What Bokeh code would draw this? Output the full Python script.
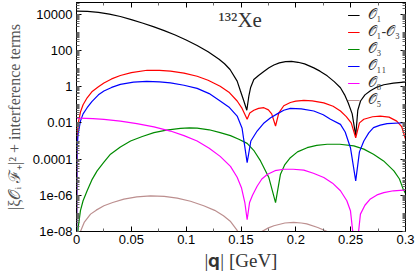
import numpy as np
from bokeh.plotting import figure
from bokeh.models import (FixedTicker, LinearAxis, LogAxis, Label, Legend, LegendItem)
from bokeh.embed import file_html
from bokeh.resources import INLINE

# ---- data: q [GeV] and log10 of |xi F|^2 ----
q_o1 = [0.0, 0.01, 0.02, 0.03, 0.04, 0.05, 0.06, 0.07, 0.08, 0.09, 0.10, 0.11, 0.12, 0.13,
        0.135, 0.14, 0.1465, 0.1495, 0.1526, 0.1553, 0.1572, 0.1587, 0.1617, 0.166, 0.1708,
        0.1755, 0.18, 0.185, 0.1906, 0.196, 0.202, 0.208, 0.2164, 0.222, 0.2286, 0.235,
        0.2407, 0.2445, 0.2478, 0.2514, 0.2546, 0.2565, 0.259, 0.263, 0.268, 0.274, 0.2802,
        0.289, 0.2985, 0.3]
lg_o1 = [4.18, 4.16, 4.11, 4.01, 3.88, 3.71, 3.52, 3.32, 3.10, 2.86, 2.58, 2.28, 1.93, 1.52,
         1.27, 0.95, 0.31, -0.24, -0.79, -1.3, -0.5, -0.06, 0.40, 0.62, 0.84,
         1.05, 1.2, 1.32, 1.39, 1.40, 1.35, 1.26, 1.04, 0.86, 0.60, 0.28,
         -0.06, -0.45, -0.9, -1.5, -2.7, -1.3, -0.79, -0.45, -0.22, -0.02, 0.11,
         0.2, 0.25, 0.25]

q_o13 = [0.0, 0.0004, 0.001, 0.002, 0.0036, 0.006, 0.0097, 0.014, 0.02, 0.025, 0.032, 0.04,
         0.05, 0.0644, 0.0757, 0.0857, 0.098, 0.11, 0.12, 0.131, 0.139, 0.1465, 0.151,
         0.1556, 0.158, 0.1617, 0.166, 0.1708, 0.175, 0.178, 0.1815, 0.1845, 0.189, 0.195,
         0.2, 0.2073, 0.215, 0.2255, 0.234, 0.2407, 0.246, 0.2505, 0.2546, 0.258, 0.262,
         0.27, 0.277, 0.285, 0.292, 0.2965, 0.2985, 0.3]
lg_o13 = [-10.0, -3.2, -2.4, -1.9, -1.40, -1.0, -0.61, -0.28, 0.0, 0.21, 0.43, 0.62,
          0.78, 0.91, 0.90, 0.86, 0.75, 0.58, 0.36, 0.03, -0.3, -0.79, -1.2,
          -1.8, -1.45, -1.3, -1.2, -1.16, -1.28, -1.5, -2.17, -1.45, -1.05, -0.87,
          -0.8, -0.76, -0.78, -0.89, -1.08, -1.34, -1.65, -2.0, -2.82, -2.0, -1.8,
          -1.66, -1.62, -1.68, -1.9, -2.2, -2.6, -2.9]

q_o3 = [0.0, 0.0005, 0.0015, 0.0036, 0.006, 0.0097, 0.014, 0.0188, 0.025, 0.031, 0.04,
        0.0493, 0.06, 0.0706, 0.082, 0.0948, 0.103, 0.11, 0.121, 0.131, 0.1404, 0.148,
        0.1556, 0.162, 0.1678, 0.1754, 0.1815, 0.186, 0.19, 0.195, 0.2015, 0.2103, 0.219,
        0.2286, 0.24, 0.2529, 0.262, 0.2708, 0.28, 0.2894, 0.2945, 0.2979, 0.3]
lg_o3 = [-12.0, -9.0, -7.8, -6.85, -6.3, -5.75, -5.15, -4.65, -4.17, -3.73, -3.33,
         -3.0, -2.75, -2.54, -2.4, -2.30, -2.27, -2.29, -2.38, -2.54, -2.7, -2.9,
         -3.13, -3.55, -4.1, -5.02, -6.4, -4.83, -4.3, -3.92, -3.6, -3.37, -3.24,
         -3.18, -3.18, -3.27, -3.45, -3.73, -4.1, -4.65, -5.1, -5.66, -5.9]

q_o11 = [0.0, 0.0005, 0.0015, 0.0036, 0.006, 0.0097, 0.014, 0.02, 0.025, 0.032, 0.04,
         0.052, 0.064, 0.0757, 0.0857, 0.098, 0.11, 0.121, 0.131, 0.1395, 0.1465, 0.151,
         0.1556, 0.159, 0.1647, 0.171, 0.177, 0.183, 0.189, 0.195, 0.205, 0.2164, 0.225,
         0.2316, 0.2407, 0.245, 0.2498, 0.2546, 0.258, 0.262, 0.2665, 0.2708, 0.277,
         0.2832, 0.2985, 0.3]
lg_o11 = [-10.0, -3.4, -2.6, -1.9, -1.5, -1.16, -0.82, -0.45, -0.24, -0.04, 0.13,
          0.25, 0.29, 0.27, 0.21, 0.08, -0.09, -0.38, -0.79, -1.15, -1.62, -2.3,
          -4.19, -3.0, -2.45, -2.0, -1.71, -1.5, -1.3, -1.2, -1.22, -1.34, -1.55,
          -1.8, -2.08, -2.5, -3.37, -5.2, -3.6, -3.0, -2.55, -2.26, -2.12,
          -2.04, -1.99, -1.99]

q_o8 = [0.0, 0.002, 0.015, 0.025, 0.04, 0.055, 0.0706, 0.0857, 0.098, 0.11, 0.121, 0.131,
        0.1404, 0.1465, 0.1505, 0.1535, 0.1556, 0.1578, 0.1605, 0.1647, 0.169, 0.1739,
        0.181, 0.189, 0.1975, 0.2073, 0.216, 0.2255, 0.2335, 0.2407, 0.2465, 0.2498,
        0.2546, 0.2589, 0.263, 0.268, 0.274, 0.2802, 0.289, 0.2985, 0.3]
lg_o8 = [-1.74, -1.74, -1.76, -1.80, -1.9, -2.04, -2.22, -2.45, -2.7, -3.0, -3.4, -3.85,
         -4.4, -5.0, -5.6, -6.4, -7.35, -6.4, -6.0, -5.5, -5.1, -4.85,
         -4.64, -4.56, -4.56, -4.61, -4.78, -5.02, -5.33, -5.75, -6.3, -6.85,
         -9.5, -7.04, -6.55, -6.2, -5.98, -5.85, -5.75, -5.71, -5.71]

q_o5 = [0.0, 0.002, 0.0036, 0.007, 0.0128, 0.018, 0.025, 0.033, 0.0432, 0.055, 0.0675,
        0.08, 0.0918, 0.104, 0.116, 0.126, 0.134, 0.1405, 0.1465, 0.152, 0.1556, 0.16,
        0.169, 0.175, 0.18, 0.19, 0.198, 0.205, 0.21, 0.22, 0.2286, 0.24, 0.2546, 0.27, 0.3]
lg_o5 = [-12.0, -8.6, -8.0, -7.5, -7.04, -6.82, -6.58, -6.4, -6.21, -6.09, -6.03,
         -6.06, -6.16, -6.33, -6.58, -6.83, -7.13, -7.45, -7.94, -8.7, -10.5, -8.9,
         -8.0, -7.8, -7.68, -7.53, -7.5, -7.53, -7.58, -7.78, -8.0, -8.7, -10.5, -9.2, -8.8]

x_ticks = [0.0, 0.05, 0.1, 0.15, 0.2, 0.25, 0.3]
x_tick_labels = ["0", "0.05", "0.1", "0.15", "0.2", "0.25", "0.3"]
y_ticks = [1e-8, 1e-6, 1e-4, 1e-2, 1.0, 1e2, 1e4]
y_tick_labels = ["1e-08", "1e-06", "0.0001", "0.01", "1", "100", "10000"]

series = [
    ("𝒪₁", q_o1, lg_o1, "#000000"),
    ("𝒪₁-𝒪₃", q_o13, lg_o13, "#ff0000"),
    ("𝒪₃", q_o3, lg_o3, "#008b00"),
    ("𝒪₁₁", q_o11, lg_o11, "#0000ff"),
    ("𝒪₈", q_o8, lg_o8, "#ff00ff"),
    ("𝒪₅", q_o5, lg_o5, "#bc8f8f"),
]

SERIF = "Liberation Serif"
SANS = "Liberation Sans"

p = figure(frame_width=329, frame_height=229, y_axis_type="log", x_range=(0, 0.3),
           y_range=(1e-8, 4.5e4), output_backend="svg", toolbar_location=None,
           min_border_left=76, min_border_right=10, min_border_top=2, min_border_bottom=44)
p.outline_line_color = "black"
p.outline_line_width = 1
p.xgrid.visible = False
p.ygrid.visible = False
p.background_fill_color = "white"

items = []
for name, qs, lgs, col in series:
    vals = np.power(10.0, np.array(lgs))
    r = p.line(qs, vals, line_color=col, line_width=1.2)
    items.append(LegendItem(label=name, renderers=[r]))

minor_x = [0.025, 0.075, 0.125, 0.175, 0.225, 0.275]
minor_y = [m * 10.0 ** e for e in range(-8, 5) for m in range(1, 10)]

xt = FixedTicker(ticks=x_ticks, minor_ticks=minor_x)
yt = FixedTicker(ticks=y_ticks, minor_ticks=minor_y)

def style_axis(ax, ticker, show_labels):
    ax.ticker = ticker
    ax.major_tick_in = 5
    ax.major_tick_out = 0
    ax.minor_tick_in = 3
    ax.minor_tick_out = 0
    ax.axis_line_color = "black"
    ax.major_tick_line_color = "black"
    ax.minor_tick_line_color = "#666666"
    ax.major_label_text_font = SANS
    ax.major_label_text_font_size = "13px"
    ax.major_label_text_color = "black"
    ax.major_label_standoff = 4
    if not show_labels:
        ax.major_label_text_alpha = 0
        ax.major_label_text_font_size = "1px"
        ax.major_label_standoff = 0

xa = p.xaxis[0]
style_axis(xa, xt, True)
xa.major_label_standoff = 3
xa.major_label_overrides = {t: s for t, s in zip(x_ticks, x_tick_labels)}
xa.axis_label = "|𝐪| [GeV]"
xa.axis_label_text_font = SERIF
xa.axis_label_text_font_size = "19px"
xa.axis_label_text_font_style = "normal"
xa.axis_label_text_color = "#333333"
xa.axis_label_standoff = 3

ya = p.yaxis[0]
style_axis(ya, yt, True)
ya.major_label_overrides = {t: s for t, s in zip(y_ticks, y_tick_labels)}
ya.axis_label = "|ξ𝒪ᵢ ℱ₊|² + interference terms"
ya.axis_label_text_font = SERIF
ya.axis_label_text_font_size = "16px"
ya.axis_label_text_font_style = "normal"
ya.axis_label_text_color = "#555555"
ya.axis_label_standoff = 7

top = LinearAxis()
style_axis(top, xt, False)
p.add_layout(top, "above")
right = LogAxis()
style_axis(right, yt, False)
p.add_layout(right, "right")

legend = Legend(items=items, location="top_right")
legend.border_line_alpha = 0
legend.background_fill_alpha = 0
legend.label_text_font = SERIF
legend.label_text_font_size = "14px"
legend.label_text_color = "#333333"
legend.glyph_width = 12
legend.glyph_height = 12
legend.label_height = 12
legend.label_standoff = 8
legend.spacing = 1
legend.padding = 5
legend.margin = 0
legend.label_text_baseline = "middle"
p.add_layout(legend)

p.add_layout(Label(x=0.1295, y=1100, text="¹³²Xe", text_font=SERIF, text_font_size="21px",
                   text_color="#333333"))

open("out.html", "w").write(file_html(p, INLINE))
